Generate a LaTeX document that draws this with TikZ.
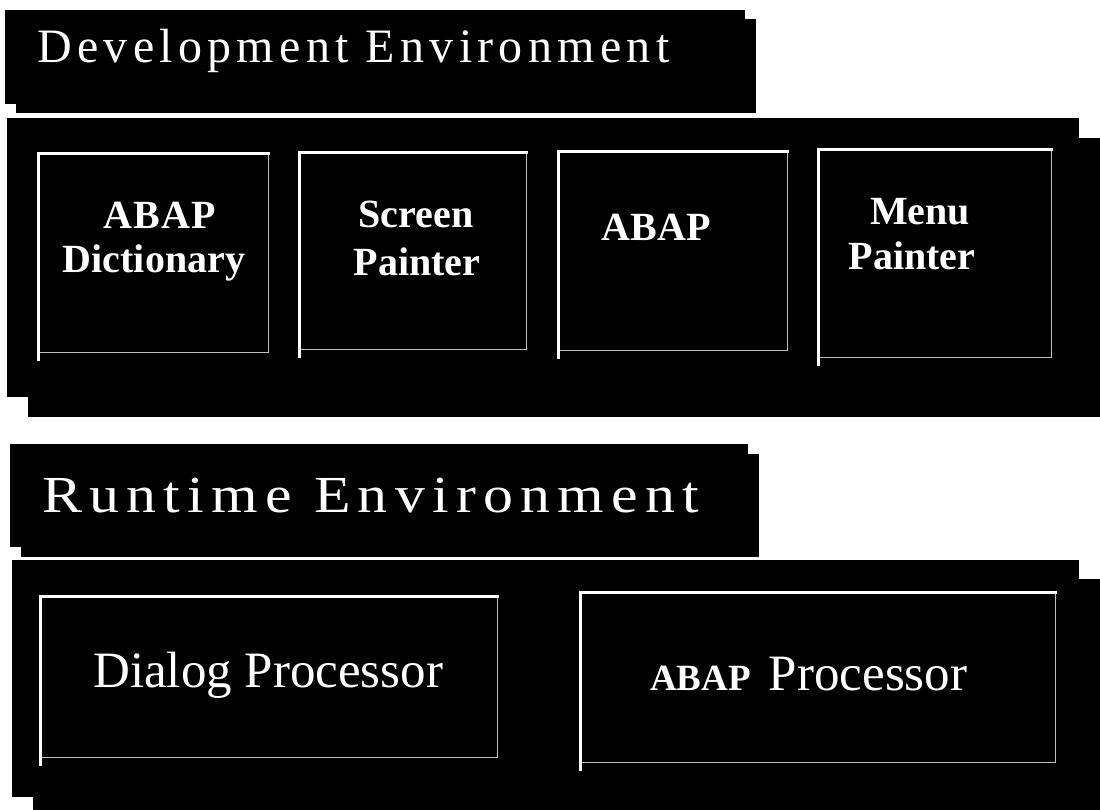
\documentclass[tikz,border=0pt]{standalone}
\usepackage{fontspec}
\setmainfont{Liberation Serif}
\begin{document}
\begin{tikzpicture}[x=1pt,y=-1pt,
  slab/.style={fill=black},
  lit/.style={draw=white, line width=3pt, line cap=rect},
  dim/.style={draw=white!75!black, line width=1pt},
  heading/.style={text=white, inner sep=0pt, anchor=base west},
  boxlabel/.style={text=white, inner sep=0pt, anchor=base,
    font=\bfseries\fontsize{40}{40}\selectfont},
]
\useasboundingbox[fill=white] (0,0) rectangle (1100,809);

% black slab with its offset drop copy: x0 y0 x1 y1 dx dy
\newcommand\slabbox[6]{%
  \fill[slab] (#1+#5,#2+#6) rectangle (#3+#5,#4+#6);
  \fill[slab] (#1,#2) rectangle (#3,#4);}
% bevelled frame: light top and left, dim bottom and right
\newcommand\bevelbox[4]{%
  \draw[dim] (#3,#2) -- (#3,#4) -- (#1,#4);
  \draw[lit] (#1,#4+7) -- (#1,#2) -- (#3,#2);}

% development environment
\slabbox{5}{10}{745}{104}{11}{9}
\slabbox{7}{118}{1079}{397}{21}{20}
\node[heading, font=\fontsize{48}{48}\selectfont\addfontfeatures{LetterSpace=11}]
  (devtitle) at (37,62) {Development Environment};

\bevelbox{38}{153}{268}{352}
\bevelbox{299}{152}{526}{349}
\bevelbox{558}{151}{787}{350}
\bevelbox{818}{149}{1051}{357}

\node[boxlabel, font=\bfseries\fontsize{40}{40}\selectfont\addfontfeatures{LetterSpace=3}]
  (dict1) at (160,228) {ABAP};
\node[boxlabel] (dict2) at (154,272) {Dictionary};
\node[boxlabel] (scr1) at (416,227) {Screen};
\node[boxlabel] (scr2) at (417,275) {Painter};
\node[boxlabel] (abap) at (656,240) {ABAP};
\node[boxlabel] (menu1) at (920,224) {Menu};
\node[boxlabel] (menu2) at (912,269) {Painter};

% runtime environment
\slabbox{10}{444}{748}{547}{11}{10}
\slabbox{12}{560}{1079}{797}{21}{19}
\node[heading, font=\fontsize{52}{52}\selectfont\addfontfeatures{FakeStretch=1.15,LetterSpace=14}]
  (rttitle) at (42,512) {Runtime Environment};

\bevelbox{40}{596}{497}{757}
\bevelbox{580}{592}{1055}{762}

\node[heading, font=\fontsize{51}{51}\selectfont] (dialog) at (93,687) {Dialog Processor};
\node[heading] (abapproc) at (650,690)
  {{\bfseries\fontsize{37}{37}\selectfont ABAP}\hspace{18pt}{\fontsize{51}{51}\selectfont Processor}};
\end{tikzpicture}
\end{document}
